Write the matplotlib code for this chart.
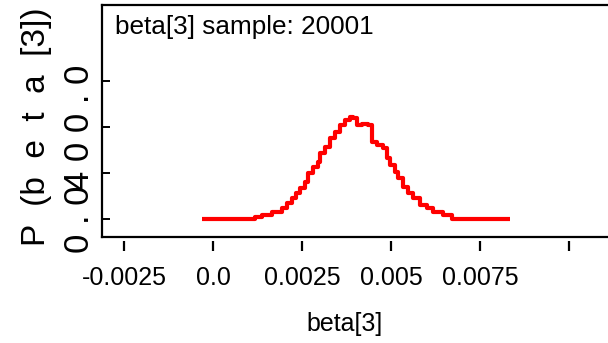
import numpy as np
import matplotlib
matplotlib.use('Agg')
import matplotlib.pyplot as plt

plt.rcParams['font.family'] = ['Liberation Sans', 'DejaVu Sans']

# kernel density of beta[3]
beta_x = [-0.000326, 0.001173, 0.001361, 0.001642, 0.001923, 0.002064, 0.002205,
          0.002326, 0.002438, 0.002579, 0.002663, 0.002812, 0.002953, 0.003000,
          0.003141, 0.003282, 0.003422, 0.003563, 0.003704, 0.003844, 0.003937,
          0.004032, 0.004173, 0.004359, 0.004454, 0.004595, 0.004780, 0.004876,
          0.004969, 0.005109, 0.005202, 0.005343, 0.005483, 0.005624, 0.005812,
          0.006001, 0.006186, 0.006468, 0.006704, 0.008343]
density = [0, 11, 19, 33, 48, 69, 91, 113, 134, 163, 202, 228, 250, 286, 315,
           351, 380, 409, 430, 445, 438, 409, 413, 409, 336, 322, 308, 264, 235,
           206, 178, 141, 113, 91, 62, 48, 33, 19, 2, 0]

x_ticks = [-0.0025, 0.0, 0.0025, 0.005, 0.0075, 0.01]
x_tick_labels = ['-0.0025', '0.0', '0.0025', '0.005', '0.0075', '']
y_ticks = [0, 200, 400, 600]
y_tick_labels = ['0 . 0', '', '4 0 0 . 0', '']

fig = plt.figure(figsize=(6.08, 3.43), dpi=100)
ax = fig.add_axes([102 / 608, 1 - 237 / 343, 518 / 608, 232 / 343])

ax.plot(beta_x, density, color='red', lw=3, drawstyle='steps-post',
        solid_capstyle='butt')

ax.set_xlim(-0.003130, 0.011437)
ax.set_ylim(-76.7, 928.5)

for s in ax.spines.values():
    s.set_linewidth(1.6)
ax.spines['right'].set_visible(False)

# x ticks sit a little below the frame
ax.tick_params(axis='x', bottom=False, labelbottom=False)
sec = ax.secondary_xaxis(-4 / 232)
sec.spines['bottom'].set_visible(False)
sec.set_xticks(x_ticks, labels=x_tick_labels)
sec.tick_params(axis='x', direction='out', length=7, width=1.6,
                labelsize=18, pad=11)

ax.set_yticks(y_ticks, labels=y_tick_labels)
ax.tick_params(axis='y', direction='in', length=6, width=1.4,
               labelsize=25, pad=4)
for lab in ax.get_yticklabels():
    lab.set_rotation(90)
    lab.set_va('center')

ax.text(0.025, 0.955, 'beta[3] sample: 20001', transform=ax.transAxes,
        fontsize=18.8, ha='left', va='top')

fig.text(345 / 608, 1 - 324 / 343, 'beta[3]', fontsize=18,
         ha='center', va='center')
fig.text(37 / 608, 1 - 127 / 343, 'P  (b  e  t  a  [3])', fontsize=24,
         rotation=90, ha='center', va='center')

fig.savefig('out.png', dpi=100)
